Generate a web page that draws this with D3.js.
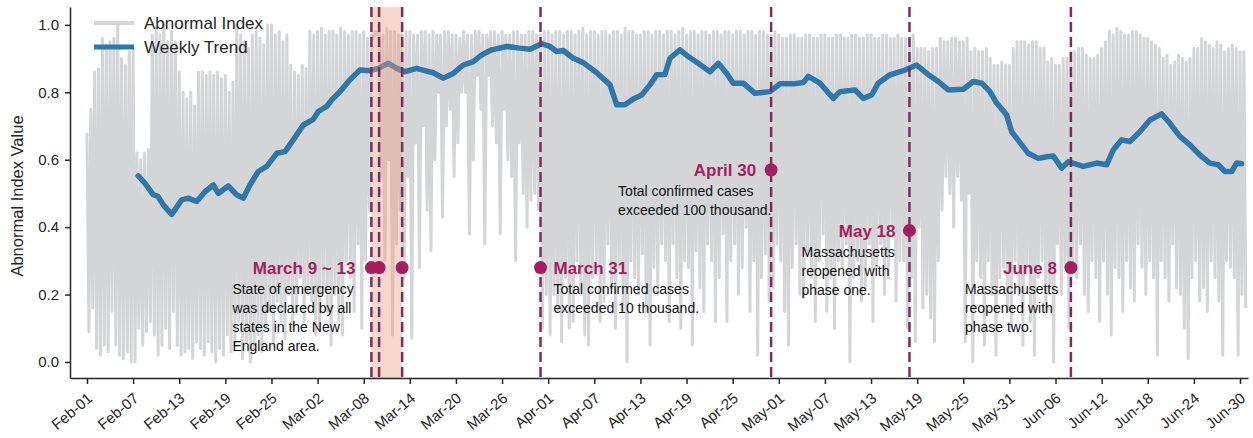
<!DOCTYPE html>
<meta charset="utf-8">
<style>
body { margin: 0; background: #fff; }
svg { font-family: "Liberation Sans", Arial, sans-serif; }
.axis path, .axis line { stroke: #262626; stroke-width: 1.5px; }
.axis text { fill: #262626; }
.note { font-size: 14px; fill: #111; }
.event { font-size: 17px; font-weight: bold; fill: #a61e5e; }
.legend text { font-size: 17px; fill: #262626; }
</style>
<svg width="1253" height="438"></svg>
<script src="https://cdnjs.cloudflare.com/ajax/libs/d3/7.8.5/d3.min.js"></script>
<script>

// abnormal index, 4 readings a day (00h, 06h, 12h, 18h)
var abnFeb = [
  .68,.09,.75,.16, .86,.04,.87,.02, .96,.05,.94,.03, .95,.15,.96,.05, 1.0,.02,.90,.01,
  .88,.03,.92,.00, .93,.00,.62,.10, .60,.05,.62,.09, .63,.12,.97,.08, .99,.02,.97,.05,
  1.0,.10,.95,.04, .98,.15,.95,.05, .86,.02,.80,.03, .78,.04,.80,.01, .76,.06,.86,.04,
  .86,.02,.85,.06, .86,.03,.85,.00, .86,.04,.84,.02, .85,.08,.80,.03, .83,.05,1.0,.12,
  .97,.01,.95,.06, .93,.00,.97,.04, .98,.08,.96,.03, .94,.10,1.0,.15, 1.0,.05,.97,.18,
  .98,.12,.95,.07, .97,.20,.88,.10, .86,.15,.85,.25, .88,.12,.87,.20
];
var abnMar = [
  .98,.18,.97,.08, .98,.10,.99,.22, .97,.15,.98,.05, .98,.20,.97,.12, .99,.08,.98,.30,
  .97,.25,.98,.15, .98,.35,.97,.10, .98,.30,.96,.45, .97,.96,.98,.97, .98,.55,.97,.30,
  .99,.60,.98,.08, .98,.35,.97,.45, .97,.25,.98,.55, .98,.07,.97,.65, .97,.28,.98,.70,
  .98,.45,.97,.33, .98,.60,.97,.80, .97,.43,.98,.70, .98,.75,.97,.55, .97,.65,.96,.80,
  .98,.80,.97,.38, .97,.60,.98,.85, .98,.75,.97,.35, .97,.85,.98,.70, .98,.65,.97,.38,
  .98,.75,.97,.60, .97,.55,.98,.30, .98,.65,.97,.50, .97,.40,.98,.48, .98,.50,.97,.45,
  .97,.10,.98,.20
];
var abnApr = [
  .98,.08,.97,.20, .98,.15,.98,.06, .97,.25,.98,.10, .98,.12,.97,.30, .98,.20,.99,.08,
  .97,.05,.98,.25, .98,.30,.97,.12, .98,.18,.98,.35, .97,.22,.98,.10, .98,.28,.97,.15,
  .99,.00,.98,.30, .98,.25,.97,.20, .97,.32,.98,.15, .98,.05,.97,.28, .98,.20,.98,.35,
  .97,.30,.98,.12, .98,.35,.97,.25, .98,.10,.99,.30, .97,.28,.98,.05, .98,.33,.97,.22,
  .98,.15,.98,.35, .97,.30,.98,.12, .98,.25,.97,.38, .98,.12,.98,.30, .97,.35,.98,.20,
  .98,.28,.97,.40, .98,.15,.98,.30, .97,.02,.98,.25, .98,.32,.97,.18, .97,.22,.98,.35
];
var abnMay = [
  .97,.30,.96,.15, .96,.05,.97,.28, .97,.35,.96,.20, .96,.19,.97,.32, .97,.25,.96,.12,
  .96,.30,.97,.38, .97,.15,.96,.25, .96,.10,.97,.30, .97,.28,.96,.35, .96,.00,.97,.25,
  .97,.30,.96,.18, .96,.22,.97,.35, .97,.12,.96,.28, .96,.35,.97,.20, .97,.25,.96,.40,
  .96,.18,.97,.30, .96,.30,.96,.10, .96,.25,.97,.06, .93,.40,.93,.16, .93,.20,.92,.13,
  .93,.06,.93,.30, .96,.45,.95,.55, .95,.50,.96,.40, .96,.55,.95,.48, .95,.06,.96,.50,
  .92,.00,.93,.30, .92,.25,.92,.05, .93,.30,.90,.20, .88,.02,.88,.25, .89,.28,.88,.15,
  .88,.10,.93,.30
];
var abnJun = [
  .95,.20,.95,.05, .95,.28,.94,.12, .95,.02,.95,.25, .93,.30,.93,.15, .89,.22,.90,.00,
  .88,.35,.88,.20, .90,.28,.90,.10, .92,.30,.92,.25, .93,.35,.93,.20, .91,.15,.90,.30,
  .90,.25,.91,.12, .93,.30,.95,.20, .98,.08,.97,.28, .99,.25,.98,.15, .97,.30,.97,.22,
  .98,.18,.98,.35, .97,.28,.96,.20, .96,.30,.95,.25, .94,.02,.93,.30, .90,.25,.91,.18,
  .88,.35,.89,.22, .91,.20,.90,.10, .89,.01,.90,.25, .93,.30,.93,.18, .96,.22,.95,.15,
  .94,.30,.93,.25, .95,.18,.94,.02, .92,.30,.93,.28, .94,.25,.93,.02, .92,.20,.92,.16
];

// weekly trend: day offset from Feb-01, value
var trendDay = [
  6.67,7.55,8.63,9.24,9.93,11.02,12.32,13.18,14.27,15.35,16.43,17.08,18.38,19.47,20.33,21.2,
  22.28,23.38,24.68,25.76,26.84,28.14,29.44,30.09,31.18,31.83,32.91,34.21,35.51,36.82,37.9,
  39.2,40.29,41.37,42.89,43.32,45.05,46.35,47.65,48.95,50.25,51.35,52.65,54.6,56.33,57.63,
  59.15,60.23,61.1,61.96,63.26,64.56,66.31,68.04,68.91,69.99,71.07,72.16,73.24,74.11,75.19,
  75.84,77.14,78.22,79.52,81.05,82.13,83.22,84.08,85.38,86.9,88.85,90.15,91.88,93.18,93.83,
  95.36,97.09,97.96,99.91,100.99,102.08,102.94,104.46,106.19,107.93,109.24,110.75,112.05,
  114.0,115.3,116.39,117.47,118.34,119.64,120.29,121.6,122.45,123.75,124.85,125.71,126.8,
  127.66,129.61,131.35,132.65,133.51,134.6,135.68,136.98,138.28,139.8,140.88,142.18,143.48,
  144.78,146.08,147.17,148.04,148.91,149.56,150.21
];
var trendValue = [
  .552,.530,.496,.491,.466,.438,.481,.486,.476,.505,.525,.500,.522,.496,.486,.525,
  .565,.580,.619,.624,.659,.703,.720,.743,.758,.777,.802,.837,.866,.864,.871,
  .886,.871,.861,.871,.868,.858,.842,.856,.881,.891,.911,.926,.936,.931,.928,
  .944,.936,.921,.924,.901,.888,.858,.822,.763,.763,.780,.792,.822,.852,.853,
  .901,.926,.906,.886,.861,.886,.856,.827,.827,.797,.802,.825,.825,.829,.847,
  .827,.782,.802,.807,.782,.792,.827,.852,.864,.881,.856,.832,.807,
  .809,.832,.827,.802,.768,.733,.683,.644,.619,.604,.609,.611,.575,
  .594,.580,.590,.585,.629,.659,.654,.683,.718,.736,.708,.669,.644,
  .614,.590,.585,.565,.565,.590,.588
];

var tickDays = d3.range(0, 151, 6);
var eventDates = ["2020-03-09", "2020-03-10", "2020-03-13", "2020-03-31", "2020-04-30", "2020-05-18", "2020-06-08"];
var eventValues = [0.28, 0.28, 0.28, 0.28, 0.57, 0.39, 0.28];
var spanDates = ["2020-03-09", "2020-03-13"];
var yTicks = [0, 0.2, 0.4, 0.6, 0.8, 1.0];

var notes = [
  {title: "March 9 ~ 13", at: "2020-03-09", value: 0.28, side: "left", dx: -16, tx: -139,
   lines: ["State of emergency", "was declared by all", "states in the New", "England area."]},
  {title: "March 31", at: "2020-03-31", value: 0.28, side: "right", dx: 13, tx: 13,
   lines: ["Total confirmed cases", "exceeded 10 thousand."]},
  {title: "April 30", at: "2020-04-30", value: 0.57, side: "left", dx: -15, tx: -153,
   lines: ["Total confirmed cases", "exceeded 100 thousand."]},
  {title: "May 18", at: "2020-05-18", value: 0.39, side: "left", dx: -14, tx: -108,
   lines: ["Massachusetts", "reopened with", "phase one."]},
  {title: "June 8", at: "2020-06-08", value: 0.28, side: "left", dx: -14, tx: -106,
   lines: ["Massachusetts", "reopened with", "phase two."]}
];

var DAY = 864e5,
    t0 = Date.UTC(2020, 1, 1);
function dayDate(d) { return new Date(t0 + d * DAY); }
function parseDay(s) { return new Date(s + "T00:00:00Z"); }

var svg = d3.select("svg"),
    plotLeft = 70, plotRight = 1248, plotTop = 7, plotBottom = 378;

var x = d3.scaleUtc().domain([dayDate(-2.21), dayDate(151.04)]).range([plotLeft, plotRight]);
var y = d3.scaleLinear().domain([-0.0475, 1.053]).range([plotBottom, plotTop]);

// gray series
var abnormal = [];
[abnFeb, abnMar, abnApr, abnMay, abnJun].reduce(function(start, arr) {
  arr.forEach(function(v, i) { abnormal.push({date: dayDate(start + i / 4), value: v}); });
  return start + arr.length / 4;
}, 0);
var trend = trendDay.map(function(d, i) { return {date: dayDate(d), value: trendValue[i]}; });

var line = d3.line()
    .x(function(d) { return x(d.date); })
    .y(function(d) { return y(d.value); });

svg.append("path")
    .datum(abnormal)
    .attr("d", line)
    .attr("fill", "none")
    .attr("stroke", "#d4d5d7")
    .attr("stroke-width", 3)
    .attr("stroke-linejoin", "round");

svg.append("path")
    .datum(trend)
    .attr("d", line)
    .attr("fill", "none")
    .attr("stroke", "#2e77ad")
    .attr("stroke-width", 5.5)
    .attr("stroke-linejoin", "round")
    .attr("stroke-linecap", "round");

// shaded state-of-emergency window
svg.append("rect")
    .attr("x", x(parseDay(spanDates[0])))
    .attr("y", plotTop)
    .attr("width", x(parseDay(spanDates[1])) - x(parseDay(spanDates[0])))
    .attr("height", plotBottom - plotTop)
    .attr("fill", "#eb9e80")
    .attr("fill-opacity", 0.4);

svg.selectAll(".vline")
  .data(eventDates)
  .enter().append("line")
    .attr("class", "vline")
    .attr("x1", function(d) { return x(parseDay(d)); })
    .attr("x2", function(d) { return x(parseDay(d)); })
    .attr("y1", plotTop)
    .attr("y2", plotBottom)
    .attr("stroke", "#7b2f5f")
    .attr("stroke-width", 2.5)
    .attr("stroke-dasharray", "10,5");

svg.selectAll(".dot")
  .data(eventDates)
  .enter().append("circle")
    .attr("class", "dot")
    .attr("cx", function(d) { return x(parseDay(d)); })
    .attr("cy", function(d, i) { return y(eventValues[i]); })
    .attr("r", 6.5)
    .attr("fill", "#a61e5e");

var note = svg.selectAll(".notes")
  .data(notes)
  .enter().append("g");
note.append("text")
    .attr("class", "event")
    .attr("x", function(d) { return x(parseDay(d.at)) + d.dx; })
    .attr("y", function(d) { return y(d.value); })
    .attr("dy", "0.36em")
    .attr("text-anchor", function(d) { return d.side == "left" ? "end" : "start"; })
    .text(function(d) { return d.title; });
note.each(function(d) {
  var g = d3.select(this);
  d.lines.forEach(function(s, i) {
    g.append("text")
        .attr("class", "note")
        .attr("x", x(parseDay(d.at)) + d.tx)
        .attr("y", y(d.value) + 26 + i * 19)
        .text(s);
  });
});

// axes
var xAxis = svg.append("g")
    .attr("class", "axis")
    .attr("transform", "translate(0," + plotBottom + ")")
    .call(d3.axisBottom(x)
        .tickValues(tickDays.map(dayDate))
        .tickFormat(d3.utcFormat("%b-%d"))
        .tickSize(6)
        .tickSizeOuter(0))
    .attr("font-size", 15)
    .attr("font-family", null);
xAxis.selectAll("text")
    .attr("text-anchor", "end")
    .attr("dy", null)
    .attr("y", null)
    .attr("transform", "translate(6,22) rotate(-40)");

svg.append("g")
    .attr("class", "axis")
    .attr("transform", "translate(" + plotLeft + ",0)")
    .call(d3.axisLeft(y)
        .tickValues(yTicks)
        .tickFormat(d3.format(".1f"))
        .tickSize(5)
        .tickSizeOuter(0))
    .attr("font-size", 15)
    .attr("font-family", null)
  .selectAll("text")
    .attr("x", -11);

svg.append("text")
    .attr("transform", "translate(23,196) rotate(-90)")
    .attr("text-anchor", "middle")
    .style("font-size", "16.5px")
    .attr("fill", "#262626")
    .text("Abnormal Index Value");

// legend
var legend = svg.append("g").attr("class", "legend");
[["Abnormal Index", "#d4d5d7", 4, 23], ["Weekly Trend", "#2e77ad", 5, 47]].forEach(function(l) {
  legend.append("line")
      .attr("x1", 94).attr("x2", 134)
      .attr("y1", l[3]).attr("y2", l[3])
      .attr("stroke", l[1])
      .attr("stroke-width", l[2]);
  legend.append("text")
      .attr("x", 144)
      .attr("y", l[3])
      .attr("dy", "0.36em")
      .text(l[0]);
});
</script>
